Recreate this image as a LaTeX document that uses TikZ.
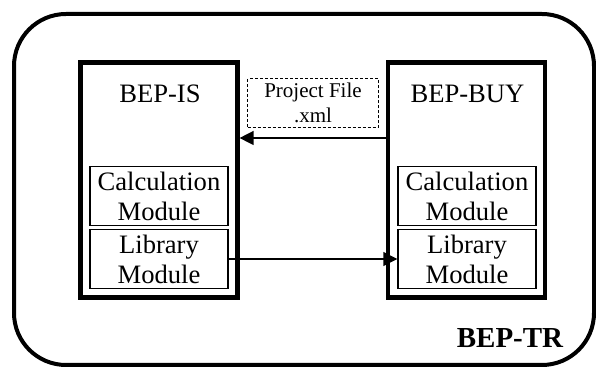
\documentclass[tikz,border=0pt]{standalone}
\usepackage{fontspec}
\setmainfont{Liberation Serif}
\usetikzlibrary{arrows.meta,positioning}

\begin{document}
\begin{tikzpicture}[x=0.5pt, y=-0.5pt,
  frame/.style={draw, line width=2pt, rounded corners=26pt, minimum width=290pt, minimum height=175.5pt},
  tool/.style={draw, line width=2.1pt, minimum width=78.5pt, minimum height=117.5pt},
  module/.style={draw, line width=0.7pt, minimum width=69pt, minimum height=29.5pt, inner sep=0pt, align=center, font=\fontsize{13.3}{15}\selectfont},
  title/.style={font=\fontsize{13.3}{15}\selectfont},
  xmlfile/.style={draw, dash pattern=on 1.5pt off 1pt, line width=0.5pt, minimum width=65.3pt, minimum height=24.4pt, inner sep=0pt, align=center, font=\fontsize{10.5}{12.5}\selectfont},
  flow/.style={-{Triangle[length=7pt, width=7pt]}, line width=0.7pt}]
\useasboundingbox (0,0) rectangle (596,368);
\node[frame] (tr) at (304,189.5) {};
\node[font=\fontsize{14.5}{16}\selectfont\bfseries] (trtitle) at (510,338) {BEP-TR};
% tools
\node[tool] (is) at (159,180) {};
\node[tool] (buy) at (466.5,180) {};
\node[title] (istitle) at (160,94) {BEP-IS};
\node[title] (buytitle) at (467.5,94) {BEP-BUY};
% modules
\node[module] (iscalc) at (159,196) {Calculation\\Module};
\node[module] (islib) at (159,259) {Library\\Module};
\node[module] (buycalc) at (467,196) {Calculation\\Module};
\node[module] (buylib) at (467,259) {Library\\Module};
% exchange
\node[xmlfile] (xml) at (313,103.3) {Project File\\.xml};
\coordinate (fileline) at (0,138);
\draw[flow] (buy.west |- fileline) -- (is.east |- fileline);
\draw[flow] (islib.east) -- (buylib.west);
\end{tikzpicture}
\end{document}
